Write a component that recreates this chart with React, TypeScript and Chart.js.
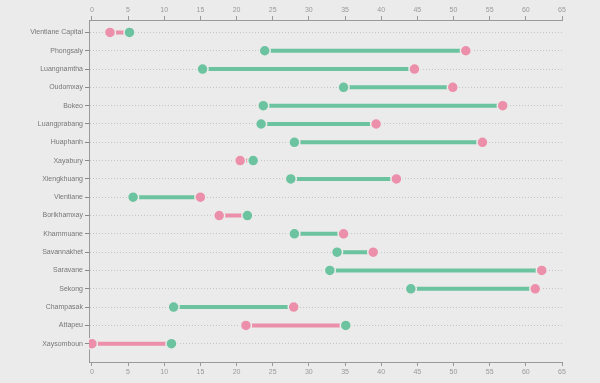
import React, { useEffect, useRef } from "react";
import { Chart, registerables } from "chart.js";

Chart.register(...registerables);

const categories = [
  "Vientiane Capital", "Phongsaly", "Luangnamtha", "Oudomxay", "Bokeo", "Luangprabang",
  "Huaphanh", "Xayabury", "Xiengkhuang", "Vientiane", "Borikhamxay", "Khammuane",
  "Savannakhet", "Saravane", "Sekong", "Champasak", "Attapeu", "Xaysomboun",
];
const seriesGreen = [5.2, 23.9, 15.3, 34.8, 23.7, 23.4, 28.0, 22.3, 27.5, 5.7, 21.5, 28.0, 33.9, 32.9, 44.1, 11.3, 35.1, 11.0];
const seriesPink = [2.5, 51.7, 44.6, 49.9, 56.8, 39.3, 54.0, 20.5, 42.1, 15.0, 17.6, 34.8, 38.9, 62.2, 61.3, 27.9, 21.3, 0];
const xTickValues = [0, 5, 10, 15, 20, 25, 30, 35, 40, 45, 50, 55, 60, 65];

const GREEN = "#6cc3a0";
const PINK = "#ec8fab";
const BG = "#ebebeb";

function segData(useGreen: boolean) {
  const out: { x: number; y: number }[] = [];
  categories.forEach((_, i) => {
    const g = seriesGreen[i];
    const p = seriesPink[i];
    const greenLeft = g < p;
    if (greenLeft === useGreen) {
      out.push({ x: g, y: i });
      out.push({ x: p, y: i });
      out.push({ x: NaN, y: NaN });
    }
  });
  return out;
}

export default function App() {
  const ref = useRef<HTMLCanvasElement>(null);
  useEffect(() => {
    if (!ref.current) return;
    const setTicks = (s: any) => {
      s.ticks = xTickValues.map((v) => ({ value: v }));
    };
    const xCommon = {
      type: "linear" as const,
      min: -0.4,
      max: 65,
      afterBuildTicks: setTicks,
      grid: { drawOnChartArea: false, drawTicks: true, tickLength: 4, tickColor: "#999", lineWidth: 1 },
      border: { display: true, color: "#999", width: 1 },
      ticks: { color: "#999", font: { size: 7, family: "Liberation Sans" }, padding: 2, maxRotation: 0, autoSkip: false },
    };
    const chart = new Chart(ref.current, {
      type: "scatter",
      data: {
        datasets: [
          {
            type: "line",
            data: segData(true),
            borderColor: GREEN,
            borderWidth: 4,
            pointRadius: 0,
            showLine: true,
            spanGaps: false,
            order: 2,
          } as any,
          {
            type: "line",
            data: segData(false),
            borderColor: PINK,
            borderWidth: 4,
            pointRadius: 0,
            showLine: true,
            spanGaps: false,
            order: 2,
          } as any,
          {
            data: seriesGreen.map((v, i) => ({ x: v, y: i })),
            backgroundColor: GREEN,
            borderColor: BG,
            borderWidth: 1.5,
            pointRadius: 5.5,
            order: 1,
          },
          {
            data: seriesPink.map((v, i) => ({ x: v, y: i })),
            backgroundColor: PINK,
            borderColor: BG,
            borderWidth: 1.5,
            pointRadius: 5.5,
            order: 1,
          },
        ],
      },
      options: {
        animation: false,
        responsive: false,
        maintainAspectRatio: false,
        layout: { padding: { left: 0, right: 38, top: 0, bottom: 0 } },
        plugins: { legend: { display: false }, tooltip: { enabled: false } },
        scales: {
          x: {
            ...xCommon,
            position: "bottom",
            afterFit: (s: any) => { s.height = 21; },
          },
          x2: {
            ...xCommon,
            position: "top",
            afterFit: (s: any) => { s.height = 20; },
          },
          y: {
            type: "linear",
            reverse: true,
            min: -0.68,
            max: 18,
            afterBuildTicks: (s: any) => {
              s.ticks = categories.map((_, i) => ({ value: i }));
            },
            afterFit: (s: any) => { s.width = 89; },
            grid: {
              color: "#c4c4c4",
              lineWidth: 1,
              drawTicks: true,
              tickLength: 4,
              tickColor: "#888",
              tickBorderDash: [],
            },
            border: { display: true, color: "#999", width: 1, dash: [1, 2] },
            ticks: {
              color: "#777",
              font: { size: 7, family: "Liberation Sans" },
              padding: 2,
              autoSkip: false,
              callback: (v: any) => categories[Math.round(Number(v))] ?? "",
            },
          },
        },
      } as any,
    });
    return () => chart.destroy();
  }, []);
  return (
    <div style={{ position: "fixed", left: 0, top: 0, width: 600, height: 383, background: BG }}>
      <canvas ref={ref} width={600} height={383} style={{ width: 600, height: 383, display: "block" }} />
    </div>
  );
}
